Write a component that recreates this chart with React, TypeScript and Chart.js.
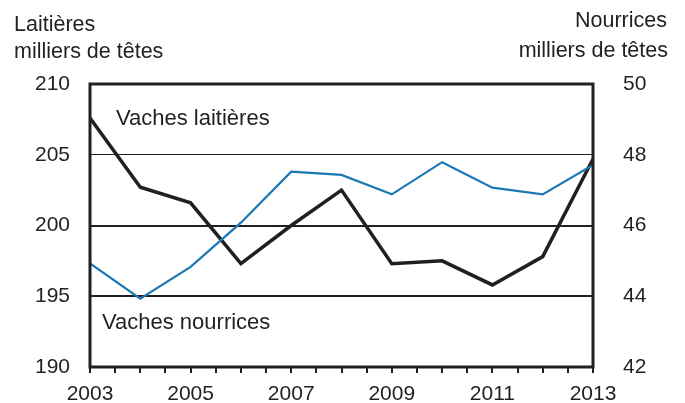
import React, { useEffect, useRef } from "react";
import { Chart, registerables } from "chart.js";

Chart.register(...registerables);

const years = [2003, 2004, 2005, 2006, 2007, 2008, 2009, 2010, 2011, 2012, 2013];
const laitieres = [207.6, 202.7, 201.6, 197.3, 200.0, 202.5, 197.3, 197.5, 195.8, 197.8, 204.7];
const nourrices = [44.93, 43.93, 44.83, 46.08, 47.52, 47.43, 46.88, 47.79, 47.07, 46.88, 47.71];
const xTickLabels = [2003, 2005, 2007, 2009, 2011, 2013];
const leftTicks = [190, 195, 200, 205, 210];
const rightTicks = [42, 44, 46, 48, 50];

const INK = "#231f20";
const BLUE = "#1a78b4";
const FONT = "'Liberation Sans', Arial, Helvetica, sans-serif";

const framePlugin = {
  id: "frame",
  afterDatasetsDraw(chart: any) {
    const { ctx, chartArea } = chart;
    ctx.save();
    ctx.strokeStyle = INK;
    ctx.lineWidth = 3;
    ctx.strokeRect(chartArea.left, chartArea.top, chartArea.right - chartArea.left, chartArea.bottom - chartArea.top);
    ctx.restore();
  },
};

export default function App() {
  const ref = useRef<HTMLCanvasElement | null>(null);

  useEffect(() => {
    if (!ref.current) return;
    const chart = new Chart(ref.current, {
      type: "line",
      data: {
        datasets: [
          {
            label: "Vaches nourrices",
            data: years.map((y, i) => ({ x: y, y: nourrices[i] })),
            borderColor: BLUE,
            borderWidth: 2.2,
            pointRadius: 0,
            yAxisID: "y2",
            tension: 0,
          },
          {
            label: "Vaches laitières",
            data: years.map((y, i) => ({ x: y, y: laitieres[i] })),
            borderColor: INK,
            borderWidth: 3.5,
            pointRadius: 0,
            yAxisID: "y",
            tension: 0,
          },
        ],
      },
      options: {
        animation: false,
        responsive: false,
        maintainAspectRatio: false,
        layout: { padding: { top: 84, left: 0, right: 0, bottom: 0 } },
        plugins: { legend: { display: false }, tooltip: { enabled: false } },
        scales: {
          x: {
            type: "linear",
            min: 2003,
            max: 2013,
            afterFit: (s: any) => { s.height = 36; },
            afterBuildTicks: (s: any) => {
              const t = [];
              for (let v = 2003; v <= 2013.001; v += 0.5) t.push({ value: v });
              s.ticks = t;
            },
            ticks: {
              autoSkip: false,
              maxRotation: 0,
              color: INK,
              font: { family: FONT, size: 21 },
              padding: 9,
              callback: (v: any) => (xTickLabels.includes(Number(v)) ? String(v) : ""),
            },
            grid: { drawOnChartArea: false, drawTicks: true, tickLength: 6, color: INK, lineWidth: 2 },
            border: { display: false },
          },
          y: {
            position: "left",
            min: 190,
            max: 210,
            afterFit: (s: any) => { s.width = 90; },
            afterBuildTicks: (s: any) => { s.ticks = leftTicks.map((v) => ({ value: v })); },
            ticks: { color: INK, font: { family: FONT, size: 21 }, padding: 20 },
            grid: {
              drawTicks: false,
              color: INK,
              lineWidth: (c: any) => (c.tick && c.tick.value === 205 ? 1 : 2),
            },
            border: { display: false },
          },
          y2: {
            position: "right",
            min: 42,
            max: 50,
            afterFit: (s: any) => { s.width = 92; },
            afterBuildTicks: (s: any) => { s.ticks = rightTicks.map((v) => ({ value: v })); },
            ticks: { color: INK, font: { family: FONT, size: 21 }, padding: 22 },
            grid: { display: false },
            border: { display: false },
          },
        },
      },
      plugins: [framePlugin],
    });
    return () => chart.destroy();
  }, []);

  const txt = (extra: React.CSSProperties): React.CSSProperties => ({
    position: "absolute",
    fontFamily: FONT,
    fontSize: 21.5,
    lineHeight: "22px",
    color: INK,
    whiteSpace: "nowrap",
    ...extra,
  });

  return (
    <div style={{ position: "fixed", left: 0, top: 0, width: 685, height: 403, background: "#fff" }}>
      <canvas ref={ref} width={685} height={403} style={{ position: "absolute", left: 0, top: 0, width: 685, height: 403 }} />
      <div style={txt({ left: 14, top: 13 })}>Laitières</div>
      <div style={txt({ left: 14, top: 40 })}>milliers de têtes</div>
      <div style={txt({ right: 18, top: 9, textAlign: "right" })}>Nourrices</div>
      <div style={txt({ right: 17, top: 39, textAlign: "right" })}>milliers de têtes</div>
      <div style={txt({ left: 116, top: 107, fontSize: 22 })}>Vaches laitières</div>
      <div style={txt({ left: 102, top: 311, fontSize: 22 })}>Vaches nourrices</div>
    </div>
  );
}
